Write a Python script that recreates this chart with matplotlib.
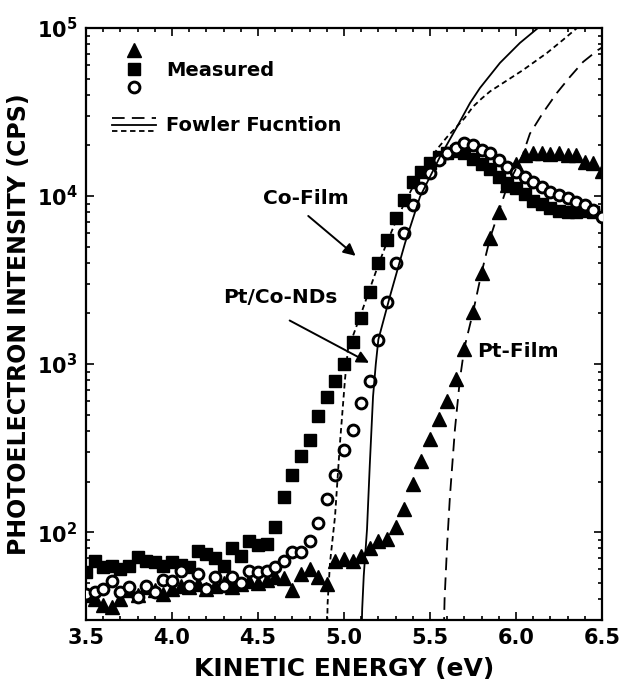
import numpy as np
import matplotlib
matplotlib.use("Agg")
import matplotlib.pyplot as plt
from matplotlib.lines import Line2D
from matplotlib.legend_handler import HandlerBase
from matplotlib.ticker import FixedLocator, LogLocator, MultipleLocator, NullFormatter

plt.rcParams['font.family'] = 'DejaVu Sans'
plt.rcParams['font.weight'] = 'bold'
plt.rcParams['mathtext.fontset'] = 'dejavusans'

# measured spectra, 3.50 ... 6.50 eV in 0.05 eV steps
energy = np.linspace(3.5, 6.5, 61)

co_film = [58, 67, 62, 63, 60, 63, 71, 67, 66, 63,
           66, 64, 62, 77, 74, 70, 63, 81, 72, 88,
           84, 85, 107, 161, 218, 282, 352, 489, 634, 789,
           995, 1361, 1892, 2698, 4015, 5500, 7430, 9500, 12170, 13900,
           15770, 17100, 18000, 18500, 18000, 16500, 15500, 14500, 13000, 12000,
           11200, 10300, 9300, 9000, 8500, 8100, 8000, 8000, 8100, 8000,
           np.nan]

pt_film = [42, 40, 37, 36, 40, 45, 42, 47, 45, 43,
           46, 48, 47, 49, 46, 48, 50, 47, 49, 51,
           50, 52, 54, 53, 45, 56, 60, 54, 49, 67,
           69, 67, 72, 81, 88, 91, 107, 137, 193, 264,
           357, 469, 600, 811, 1223, 2028, 3500, 5650, 8070, 11680,
           15500, 17500, 18000, 18000, 17800, 18000, 17500, 17500, 16000, 15800,
           14000]

ptco_nds = [43, 44, 46, 51, 44, 47, 41, 48, 44, 52,
            51, 59, 48, 56, 46, 54, 48, 54, 50, 59,
            58, 59, 62, 67, 76, 76, 88, 113, 157, 218,
            307, 408, 583, 789, 1400, 2356, 4018, 6050, 8880, 11200,
            13750, 16450, 18080, 19360, 20740, 20200, 18850, 18080, 16440, 14940,
            13940, 13020, 12160, 11360, 10610, 10180, 9780, 9250, 8880, 8290,
            7540]

# Fowler function fits
fit_co_e = [4.900, 4.905, 4.919, 4.948, 4.977, 5.006, 5.023, 5.05, 5.10, 5.15,
            5.20, 5.25, 5.30, 5.35, 5.40, 5.45, 5.50, 5.55, 5.60, 5.65,
            5.70, 5.75, 5.80, 5.85, 5.907, 6.041, 6.18, 6.273, 6.355, 6.40]
fit_co_i = [20, 38, 66, 124, 342, 811, 1222, 1450, 2000, 2800,
            3900, 5300, 7000, 9000, 11300, 13800, 16500, 19500, 22500, 25500,
            29000, 34000, 38000, 42000, 45800, 56200, 71000, 84900, 100000, 110000]

fit_nd_e = [5.100, 5.106, 5.115, 5.134, 5.150, 5.169, 5.185, 5.200, 5.267, 5.355,
            5.442, 5.558, 5.657, 5.733, 5.791, 5.907, 6.023, 6.128, 6.16]
fit_nd_i = [20, 35, 55, 104, 250, 641, 1000, 1400, 2524, 5250,
            9900, 17100, 25800, 35800, 44000, 62000, 81500, 100000, 108000]

fit_pt_e = [5.578, 5.585, 5.600, 5.616, 5.645, 5.674, 5.70, 5.75, 5.80, 5.85,
            5.90, 5.95, 6.035, 6.081, 6.157, 6.238, 6.314, 6.39, 6.477, 6.50]
fit_pt_i = [20, 40, 85, 163, 408, 811, 1250, 2028, 3500, 5650,
            8070, 11500, 17100, 23500, 31300, 41100, 51200, 62800, 74000, 76500]


class HandlerStack(HandlerBase):
    """Draws the handles of a tuple stacked on top of each other."""
    def __init__(self, step, **kw):
        super().__init__(**kw)
        self.step = step

    def create_artists(self, legend, orig_handle, xdescent, ydescent,
                       width, height, fontsize, trans):
        arts = []
        n = len(orig_handle)
        yc = (height - ydescent) / 2
        for i, h in enumerate(orig_handle):
            y = yc + (n - 1) / 2 * self.step - i * self.step
            if h.get_linestyle() in ('None', 'none', ''):
                a = Line2D([-xdescent + width / 2], [y])
            else:
                a = Line2D([-xdescent, -xdescent + width], [y, y])
            a.update_from(h)
            a.set_transform(trans)
            arts.append(a)
        return arts


fig = plt.figure(figsize=(6.32, 6.86), dpi=100)
ax = fig.add_axes([0.136, 0.0962, 0.8165, 0.863])

l_tri, = ax.plot(energy, pt_film, ls='None', marker='^', ms=9.5, color='k', zorder=3)
l_sq, = ax.plot(energy, co_film, ls='None', marker='s', ms=8.3, color='k', zorder=3)
l_circ, = ax.plot(energy, ptco_nds, ls='None', marker='o', ms=7.8, mfc='white',
                  mec='k', mew=2.1, zorder=4)

l_pt, = ax.plot(fit_pt_e, fit_pt_i, color='k', lw=1.3, dashes=(7, 4), zorder=5)
l_nd, = ax.plot(fit_nd_e, fit_nd_i, color='k', lw=1.3, zorder=5)
l_co, = ax.plot(fit_co_e, fit_co_i, color='k', lw=1.3, dashes=(3, 2), zorder=5)

ax.set_yscale('log')
ax.set_xlim(3.5, 6.5)
ax.set_ylim(30, 1e5)

ax.xaxis.set_major_locator(MultipleLocator(0.5))
ax.xaxis.set_minor_locator(MultipleLocator(0.1))
ax.xaxis.set_major_formatter(plt.FuncFormatter(lambda v, p: f"{v:.1f}"))
ax.yaxis.set_major_locator(FixedLocator([1e2, 1e3, 1e4, 1e5]))
ax.yaxis.set_minor_locator(LogLocator(base=10, subs=np.arange(2, 10), numticks=20))
ax.yaxis.set_minor_formatter(NullFormatter())
ax.set_yticklabels([r'$\mathbf{10^{2}}$', r'$\mathbf{10^{3}}$',
                    r'$\mathbf{10^{4}}$', r'$\mathbf{10^{5}}$'])

ax.tick_params(which='both', direction='in', top=True, right=True, width=1.2)
ax.tick_params(which='major', length=6, labelsize=15, pad=6)
ax.tick_params(which='minor', length=3)
for sp in ax.spines.values():
    sp.set_linewidth(1.6)

ax.set_xlabel('KINETIC ENERGY (eV)', fontsize=18, fontweight='bold', labelpad=6)
ax.set_ylabel('PHOTOELECTRON INTENSITY (CPS)', fontsize=17, fontweight='bold', labelpad=4)

# curve labels
ax.text(5.03, 9700, 'Co-Film', fontsize=14.5, fontweight='bold', ha='right', va='center')
ax.annotate('', xy=(5.08, 4300), xytext=(4.78, 7800),
            arrowprops=dict(arrowstyle='-|>', color='k', lw=1.4, mutation_scale=18))
ax.text(4.965, 2490, 'Pt/Co-NDs', fontsize=14.5, fontweight='bold', ha='right', va='center')
ax.annotate('', xy=(5.16, 1000), xytext=(4.67, 1850),
            arrowprops=dict(arrowstyle='-|>', color='k', lw=1.4, mutation_scale=18))
ax.text(5.773, 1190, 'Pt-Film', fontsize=14.5, fontweight='bold', ha='left', va='center')

marks = (l_tri, l_sq, l_circ)
fits = (l_pt, l_nd, l_co)
ax.legend([marks, fits], ['Measured', 'Fowler Fucntion'],
          handler_map={marks: HandlerStack(13.3), fits: HandlerStack(4.7)},
          loc='upper left', bbox_to_anchor=(0.05, 0.945), frameon=False,
          fontsize=14, handlelength=2.3, handletextpad=0.5, labelspacing=1.9,
          borderpad=0, borderaxespad=0)

fig.savefig('out.png', dpi=100)
